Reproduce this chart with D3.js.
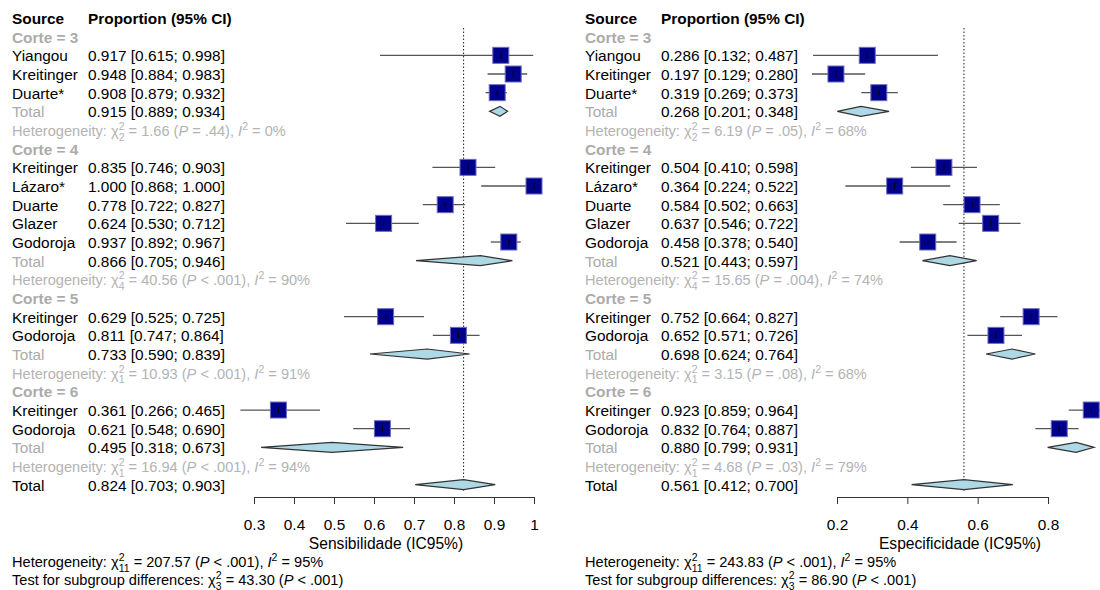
<!DOCTYPE html>
<html lang="pt">
<head>
<meta charset="UTF-8">
<title>Forest plot</title>
<script src="https://cdn.jsdelivr.net/npm/d3@7"></script>
<style>
  body { margin: 0; background: #fff; }
  svg text { font-family: "Liberation Sans", Arial, sans-serif; }
</style>
</head>
<body>
<div id="container"></div>
<script>
// subgroup labels and study names (same in both panels)
const groups = ["Corte = 3", "Corte = 4", "Corte = 5", "Corte = 6"];
const studies = [
  ["Yiangou", "Kreitinger", "Duarte*"],
  ["Kreitinger", "Lázaro*", "Duarte", "Glazer", "Godoroja"],
  ["Kreitinger", "Godoroja"],
  ["Kreitinger", "Godoroja"]
];

// sensitivity
const sensEst = [[0.917, 0.948, 0.908], [0.835, 1.000, 0.778, 0.624, 0.937], [0.629, 0.811], [0.361, 0.621]];
const sensLo  = [[0.615, 0.884, 0.879], [0.746, 0.868, 0.722, 0.530, 0.892], [0.525, 0.747], [0.266, 0.548]];
const sensHi  = [[0.998, 0.983, 0.932], [0.903, 1.000, 0.827, 0.712, 0.967], [0.725, 0.864], [0.465, 0.690]];
const sensGroupTotal = [[0.915, 0.889, 0.934], [0.866, 0.705, 0.946], [0.733, 0.590, 0.839], [0.495, 0.318, 0.673]];
const sensHetDf = ["2", "4", "1", "1"];
const sensHetQ = ["1.66", "40.56", "10.93", "16.94"];
const sensHetP = ["= .44", "< .001", "< .001", "< .001"];
const sensHetI2 = ["0%", "90%", "91%", "94%"];
const sensOverall = [0.824, 0.703, 0.903];
const sensOverallHet = ["11", "207.57", "< .001", "95%"];
const sensSubgroupTest = ["3", "43.30", "< .001"];
const sensTicks = [0.3, 0.4, 0.5, 0.6, 0.7, 0.8, 0.9, 1];

// specificity
const specEst = [[0.286, 0.197, 0.319], [0.504, 0.364, 0.584, 0.637, 0.458], [0.752, 0.652], [0.923, 0.832]];
const specLo  = [[0.132, 0.129, 0.269], [0.410, 0.224, 0.502, 0.546, 0.378], [0.664, 0.571], [0.859, 0.764]];
const specHi  = [[0.487, 0.280, 0.373], [0.598, 0.522, 0.663, 0.722, 0.540], [0.827, 0.726], [0.964, 0.887]];
const specGroupTotal = [[0.268, 0.201, 0.348], [0.521, 0.443, 0.597], [0.698, 0.624, 0.764], [0.880, 0.799, 0.931]];
const specHetDf = ["2", "4", "1", "1"];
const specHetQ = ["6.19", "15.65", "3.15", "4.68"];
const specHetP = ["= .05", "= .004", "= .08", "= .03"];
const specHetI2 = ["68%", "74%", "68%", "79%"];
const specOverall = [0.561, 0.412, 0.700];
const specOverallHet = ["11", "243.83", "< .001", "95%"];
const specSubgroupTest = ["3", "86.90", "< .001"];
const specTicks = [0.2, 0.4, 0.6, 0.8];

const width = 1100, height = 590;
const gray = "#ababab";
const fs = 15.4, fsSmall = 14.6;
const fmt = d3.format(".3f");

const svg = d3.select("#container").append("svg")
  .attr("width", width).attr("height", height)
  .attr("viewBox", [0, 0, width, height]);

// row index -> vertical centre
const y = d3.scaleLinear().domain([0, 25]).range([19, 485.7]);

function ciText(v) {
  return `${fmt(v[0])} [${fmt(v[1])}; ${fmt(v[2])}]`;
}

// chi-square text with stacked super/subscript
function statText(g, x, yy, color, prefix, df, q, p, i2) {
  const t = g.append("text").attr("x", x).attr("y", yy)
    .attr("font-size", fsSmall).attr("fill", color);
  t.append("tspan").text(prefix + "χ");
  t.append("tspan").attr("font-size", 10.5).attr("dy", -6).text("2");
  t.append("tspan").attr("font-size", 10.5).attr("dx", -5.8).attr("dy", 10.5).text(df);
  t.append("tspan").attr("dy", -4.5).text(` = ${q} (`);
  t.append("tspan").attr("font-style", "italic").text("P");
  if (i2 == null) {
    t.append("tspan").text(` ${p})`);
    return;
  }
  t.append("tspan").text(` ${p}), `);
  t.append("tspan").attr("font-style", "italic").text("I");
  t.append("tspan").attr("font-size", 10.5).attr("dy", -6).text("2");
  t.append("tspan").attr("dy", 6).text(` = ${i2}`);
}

function drawPanel(cfg) {
  const g = svg.append("g");
  const ox = cfg.ox;
  const x = d3.scaleLinear().domain(cfg.domain).range(cfg.range);
  const c1 = ox + 12, c2 = ox + 88;

  // build the row list
  const rows = [];
  let r = 1;
  groups.forEach((grp, gi) => {
    rows.push({ type: "group", row: r++, label: grp });
    studies[gi].forEach((s, si) => {
      rows.push({ type: "study", row: r++, label: s,
        v: [cfg.est[gi][si], cfg.lo[gi][si], cfg.hi[gi][si]] });
    });
    rows.push({ type: "subtotal", row: r++, label: "Total", v: cfg.groupTotal[gi] });
    rows.push({ type: "het", row: r++, gi });
  });
  rows.push({ type: "total", row: r, label: "Total", v: cfg.overall });

  // header
  g.append("text").attr("x", c1).attr("y", y(0) + 5).attr("font-size", fs)
    .attr("font-weight", "bold").text("Source");
  g.append("text").attr("x", c2).attr("y", y(0) + 5).attr("font-size", fs)
    .attr("font-weight", "bold").text("Proportion (95% CI)");

  // reference line at the overall estimate
  g.append("line")
    .attr("x1", x(cfg.overall[0])).attr("x2", x(cfg.overall[0]))
    .attr("y1", 28).attr("y2", y(25) + 5)
    .attr("stroke", "#222").attr("stroke-width", 1).attr("stroke-dasharray", "1.5,2");

  rows.forEach(d => {
    const yy = y(d.row);
    if (d.type === "group") {
      g.append("text").attr("x", c1).attr("y", yy + 5).attr("font-size", fs)
        .attr("font-weight", "bold").attr("fill", gray).text(d.label);
    } else if (d.type === "het") {
      statText(g, c1, yy + 5, "#b3b3b3", "Heterogeneity: ",
        cfg.hetDf[d.gi], cfg.hetQ[d.gi], cfg.hetP[d.gi], cfg.hetI2[d.gi]);
    } else {
      g.append("text").attr("x", c1).attr("y", yy + 5).attr("font-size", fs)
        .attr("fill", d.type === "subtotal" ? gray : "#000").text(d.label);
      g.append("text").attr("x", c2).attr("y", yy + 5).attr("font-size", fs)
        .text(ciText(d.v));
    }
    if (d.type === "study") {
      g.append("line").attr("x1", x(d.v[1])).attr("x2", x(d.v[2]))
        .attr("y1", yy - 1).attr("y2", yy - 1)
        .attr("stroke", "#555").attr("stroke-width", 1.3);
      g.append("rect").attr("x", x(d.v[0]) - 8).attr("y", yy - 9)
        .attr("width", 16).attr("height", 16)
        .attr("fill", "#00008b").attr("stroke", "#6a6ac8").attr("stroke-width", 1);
      g.append("line").attr("x1", x(d.v[0])).attr("x2", x(d.v[0]))
        .attr("y1", yy - 4).attr("y2", yy + 2)
        .attr("stroke", "#000").attr("stroke-width", 1);
    } else if (d.type === "subtotal" || d.type === "total") {
      const yc = yy - 1;
      g.append("path")
        .attr("d", `M${x(d.v[1])},${yc}L${x(d.v[0])},${yc - 5}L${x(d.v[2])},${yc}L${x(d.v[0])},${yc + 5}Z`)
        .attr("fill", "#add8e6").attr("stroke", "#333").attr("stroke-width", 1.2);
    }
  });

  // axis
  const axisY = 497;
  const ax = g.append("g").attr("transform", `translate(0,${axisY})`)
    .call(d3.axisBottom(x).tickValues(cfg.ticks).tickFormat(d3.format("~g"))
      .tickSize(7).tickSizeOuter(0).tickPadding(15));
  ax.select(".domain").attr("stroke", "#333");
  ax.selectAll(".tick line").attr("stroke", "#333");
  ax.selectAll(".tick text").attr("font-size", 15.4).attr("fill", "#000")
    .attr("font-family", "Liberation Sans, Arial, sans-serif");

  g.append("text").attr("x", cfg.titleX).attr("y", 549).attr("font-size", 15.6)
    .attr("text-anchor", "middle").text(cfg.title);

  // bottom statistics
  statText(g, c1, 567, "#000", "Heterogeneity: ",
    cfg.overallHet[0], cfg.overallHet[1], cfg.overallHet[2], cfg.overallHet[3]);
  statText(g, c1, 585, "#000", "Test for subgroup differences: ",
    cfg.subgroupTest[0], cfg.subgroupTest[1], cfg.subgroupTest[2], null);
}

drawPanel({
  ox: 0, domain: [0.3, 1], range: [254, 534], ticks: sensTicks,
  title: "Sensibilidade (IC95%)", titleX: 386,
  est: sensEst, lo: sensLo, hi: sensHi, groupTotal: sensGroupTotal,
  hetDf: sensHetDf, hetQ: sensHetQ, hetP: sensHetP, hetI2: sensHetI2,
  overall: sensOverall, overallHet: sensOverallHet, subgroupTest: sensSubgroupTest
});

drawPanel({
  ox: 573, domain: [0.2, 0.8], range: [837, 1048], ticks: specTicks,
  title: "Especificidade (IC95%)", titleX: 960,
  est: specEst, lo: specLo, hi: specHi, groupTotal: specGroupTotal,
  hetDf: specHetDf, hetQ: specHetQ, hetP: specHetP, hetI2: specHetI2,
  overall: specOverall, overallHet: specOverallHet, subgroupTest: specSubgroupTest
});
</script>
</body>
</html>
